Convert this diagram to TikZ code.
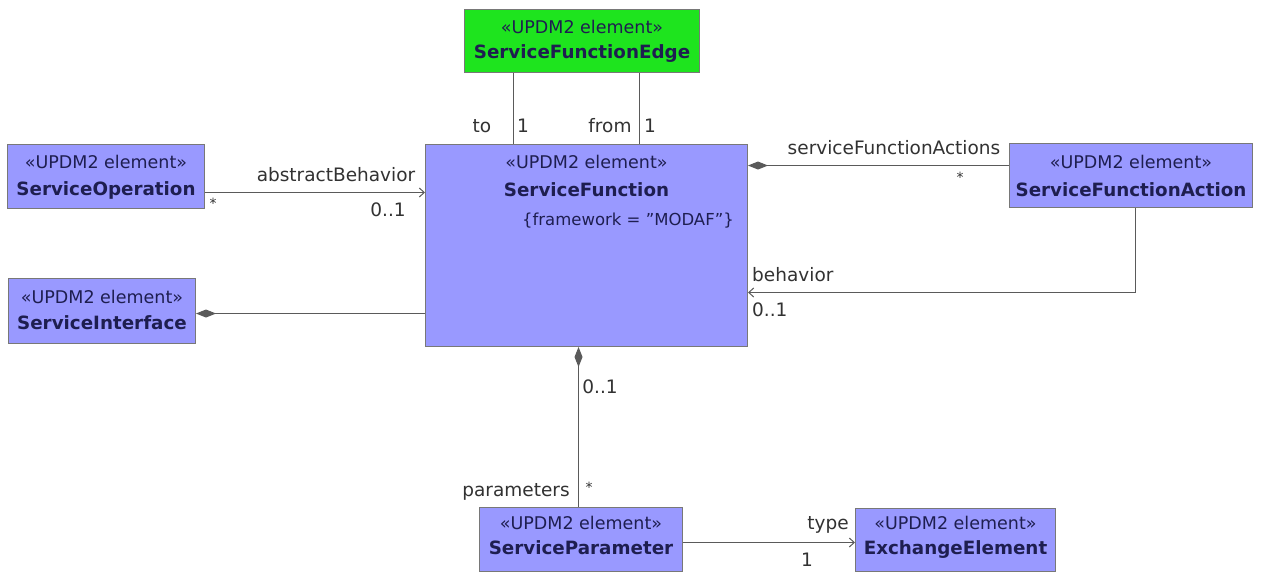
\documentclass[tikz,border=0pt]{standalone}
\usepackage{fontspec}
\setmainfont{DejaVu Sans}
\usetikzlibrary{arrows.meta,calc}
\definecolor{umlblue}{RGB}{153,153,255}
\definecolor{umlgreen}{RGB}{30,228,30}
\definecolor{bordergray}{RGB}{120,120,120}
\definecolor{linegray}{RGB}{90,90,90}
\definecolor{navy}{RGB}{30,30,80}
\definecolor{labelgray}{RGB}{50,50,50}
\newcommand{\sterfont}{\fontsize{17.5}{20}\selectfont}
\newcommand{\namefont}{\fontsize{18.3}{21}\selectfont\bfseries}
\newcommand{\lblfont}{\fontsize{18.5}{21}\selectfont}
\newcommand{\tagfont}{\fontsize{16.5}{19}\selectfont}
\newcommand{\starfont}{\fontsize{14}{16}\selectfont}
\begin{document}
\begin{tikzpicture}[x=1pt,y=-1pt,
  cls/.style={draw=bordergray, fill=umlblue, line width=1pt, inner sep=0pt, anchor=north west},
  conn/.style={draw=linegray, line width=1pt},
  openarr/.style={-{Straight Barb[length=5pt,width=9pt]}},
  compo/.style={{Diamond[length=20pt,width=8pt]}-},
  lbl/.style={font=\lblfont, text=labelgray, inner sep=0pt},
  starlbl/.style={font=\starfont, text=labelgray, inner sep=0pt},
  ster/.style={font=\sterfont, text=navy, inner sep=0pt},
  nm/.style={font=\namefont, text=navy, inner sep=0pt}
]
\useasboundingbox[fill=white] (0,0) rectangle (1265,571);

% classes
\node[cls, fill=umlgreen, minimum width=235pt, minimum height=63pt] (sfe) at (464,9) {};
\node[ster] (sfest) at ([yshift=-18pt]sfe.north) {«UPDM2 element»};
\node[nm] (sfenm) at ([yshift=-45pt]sfe.north) {ServiceFunctionEdge};

\node[cls, minimum width=322pt, minimum height=202pt] (sf) at (425,144) {};
\node[ster] (sfst) at ([yshift=-18pt]sf.north) {«UPDM2 element»};
\node[nm] (sfnm) at ([yshift=-46pt]sf.north) {ServiceFunction};
\node[font=\tagfont, text=navy, inner sep=0pt, anchor=east] (sftag) at (734,221) {\{framework = "MODAF"\}};

\node[cls, minimum width=197pt, minimum height=64pt] (sop) at (7,144) {};
\node[ster] (sopst) at ([yshift=-18pt]sop.north) {«UPDM2 element»};
\node[nm] (sopnm) at ([yshift=-46pt]sop.north) {ServiceOperation};

\node[cls, minimum width=187pt, minimum height=65pt] (sint) at (8,278) {};
\node[ster] (sintst) at ([yshift=-19pt]sint.north) {«UPDM2 element»};
\node[nm] (sintnm) at ([yshift=-45pt]sint.north) {ServiceInterface};

\node[cls, minimum width=243pt, minimum height=64pt] (sfa) at (1009,143) {};
\node[ster] (sfast) at ([yshift=-19pt]sfa.north) {«UPDM2 element»};
\node[nm] (sfanm) at ([yshift=-47pt]sfa.north) {ServiceFunctionAction};

\node[cls, minimum width=203pt, minimum height=64pt] (spar) at (479,507) {};
\node[ster] (sparst) at ([yshift=-16pt]spar.north) {«UPDM2 element»};
\node[nm] (sparnm) at ([yshift=-41pt]spar.north) {ServiceParameter};

\node[cls, minimum width=200pt, minimum height=63pt] (exel) at (855,508) {};
\node[ster] (exelst) at ([yshift=-15pt]exel.north) {«UPDM2 element»};
\node[nm] (exelnm) at ([yshift=-42pt]exel.north) {ExchangeElement};

% connectors
\draw[conn] ([xshift=-68.5pt]sfe.south) -- ([xshift=-68.5pt]sfe.south |- sf.north);
\draw[conn] ([xshift=57.5pt]sfe.south) -- ([xshift=57.5pt]sfe.south |- sf.north);
\draw[conn, openarr] ([yshift=-16pt]sop.east) -- ([yshift=-16pt]sop.east -| sf.west);
\draw[conn, compo] ([yshift=-2.5pt]sint.east) -- ([yshift=-2.5pt]sint.east -| sf.west);
\draw[conn, compo] ([yshift=10pt]sfa.west -| sf.east) -- ([yshift=10pt]sfa.west);
\draw[conn, openarr] ([xshift=4.5pt]sfa.south) |- ([yshift=-47pt]sf.east);
\draw[conn, compo] ([xshift=-8pt]sf.south) -- ([xshift=-8pt]sf.south |- spar.north);
\draw[conn, openarr] ([yshift=-3pt]spar.east) -- ([yshift=-3pt]spar.east -| exel.west);

% labels
\node[lbl] (lto) at (482,126) {to};
\node[lbl] (lto1) at (523,126) {1};
\node[lbl] (lfrom) at (610,126) {from};
\node[lbl] (lfrom1) at (650,126) {1};
\node[lbl] (lab) at (336,175) {abstractBehavior};
\node[starlbl] (labs) at (213,203) {*};
\node[lbl] (lab01) at (388,210) {0..1};
\node[lbl] (lsfa) at (894,148) {serviceFunctionActions};
\node[starlbl] (lsfas) at (960,177) {*};
\node[lbl, anchor=west] (lbeh) at (752,275) {behavior};
\node[lbl, anchor=west] (lbeh01) at (752,310) {0..1};
\node[lbl] (lpar01) at (600,387) {0..1};
\node[lbl] (lpar) at (516,492) {parameters};
\node[starlbl] (lpars) at (589,487) {*};
\node[lbl] (ltype) at (828,525) {type};
\node[lbl] (ltype1) at (807,560) {1};
\end{tikzpicture}
\end{document}
